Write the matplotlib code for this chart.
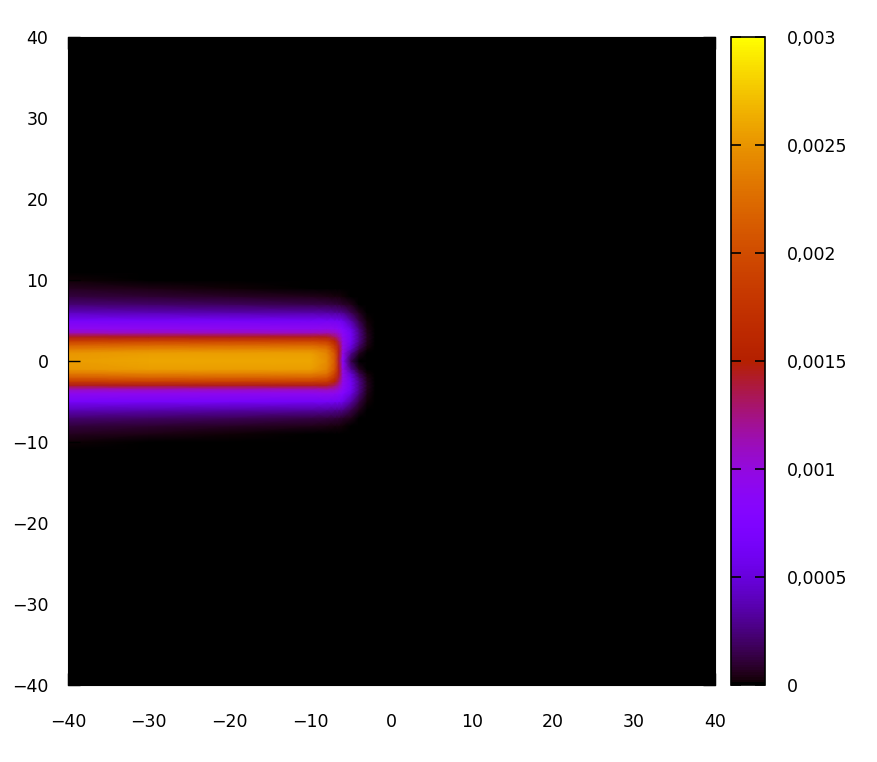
import numpy as np
import matplotlib
matplotlib.use("Agg")
import matplotlib.pyplot as plt

# x stations (columns) and half-profile y nodes (plume is symmetric about y=0)
x_nodes = [-40, -30, -20, -10, -8, -7, -6.5, -6, -5, -4, -3, -2, 40]
y_half = [0, 1, 1.5, 2, 2.5, 3, 3.5, 4, 5, 6, 7, 8, 9, 10, 11, 40]

# concentration (x 1e-3), one list per x station
profiles = [
    [2.55, 2.5, 2.35, 2.15, 1.85, 1.45, 1.1, 0.92, 0.66, 0.4, 0.23, 0.12, 0.06, 0.02, 0, 0],
    [2.6, 2.55, 2.4, 2.2, 1.9, 1.45, 1.1, 0.92, 0.65, 0.38, 0.2, 0.1, 0.04, 0.01, 0, 0],
    [2.6, 2.55, 2.4, 2.2, 1.9, 1.45, 1.1, 0.92, 0.65, 0.36, 0.18, 0.08, 0.02, 0, 0, 0],
    [2.6, 2.55, 2.4, 2.2, 1.9, 1.45, 1.1, 0.92, 0.63, 0.34, 0.15, 0.05, 0.01, 0, 0, 0],
    [2.45, 2.4, 2.3, 2.1, 1.85, 1.45, 1.12, 0.94, 0.63, 0.33, 0.14, 0.04, 0, 0, 0, 0],
    [2.1, 2.05, 1.9, 1.75, 1.55, 1.3, 1.08, 0.92, 0.62, 0.31, 0.12, 0.03, 0, 0, 0, 0],
    [1.4, 1.45, 1.45, 1.4, 1.3, 1.15, 1.0, 0.87, 0.6, 0.3, 0.11, 0.03, 0, 0, 0, 0],
    [0.85, 0.95, 0.98, 0.98, 0.95, 0.92, 0.87, 0.78, 0.54, 0.27, 0.09, 0.02, 0, 0, 0, 0],
    [0.15, 0.3, 0.45, 0.55, 0.6, 0.62, 0.6, 0.53, 0.34, 0.16, 0.05, 0.01, 0, 0, 0, 0],
    [0, 0.06, 0.15, 0.22, 0.27, 0.28, 0.27, 0.24, 0.13, 0.05, 0.01, 0, 0, 0, 0, 0],
    [0, 0, 0.02, 0.04, 0.05, 0.06, 0.05, 0.04, 0.02, 0, 0, 0, 0, 0, 0, 0],
    [0] * 16,
    [0] * 16,
]

ticks = [-40, -30, -20, -10, 0, 10, 20, 30, 40]
cb_ticks = [0, 0.0005, 0.001, 0.0015, 0.002, 0.0025, 0.003]
cb_labels = ["0", "0,0005", "0,001", "0,0015", "0,002", "0,0025", "0,003"]

# mirror the half profiles to the full grid
half = np.array(profiles).T * 1e-3
y_full = np.concatenate([-np.array(y_half[:0:-1]), y_half])
field = np.vstack([half[:0:-1], half])

plt.rcParams['font.family'] = ['DejaVu Sans']
plt.rcParams['font.size'] = 12.5

fig = plt.figure(figsize=(8.78, 7.62), dpi=100)
ax = fig.add_axes([68 / 878, 1 - 685 / 762, 647 / 878, 648 / 762])
mesh = ax.pcolormesh(x_nodes, y_full, field, shading='gouraud', cmap='gnuplot',
                     vmin=0, vmax=0.003)
ax.set_xlim(-40, 40)
ax.set_ylim(-40, 40)
ax.set_xticks(ticks)
ax.set_yticks(ticks)
ax.tick_params(direction='in', length=8.6, width=1, color='black',
               top=True, right=True)
ax.tick_params(axis='x', pad=20)
ax.tick_params(axis='y', pad=14)
for s in ax.spines.values():
    s.set_color('black')

cax = fig.add_axes([731 / 878, 1 - 685 / 762, 34 / 878, 648 / 762])
cbar = fig.colorbar(mesh, cax=cax, ticks=cb_ticks)
cbar.ax.set_yticklabels(cb_labels)
cbar.ax.tick_params(direction='in', length=7.5, width=1.2, color='black',
                    left=True, right=True, pad=16)
cbar.outline.set_linewidth(1.2)

fig.savefig("out.png", dpi=100)
